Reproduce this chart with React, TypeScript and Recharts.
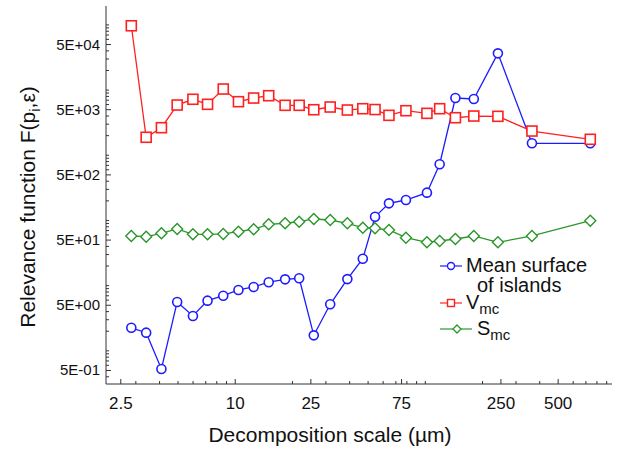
import { LineChart, Line, XAxis, YAxis, Legend, Label } from "recharts"

const FONT = "'Liberation Sans', Arial, Helvetica, sans-serif"
const BLUE = "#1c1cff"
const RED = "#ff2020"
const GREEN = "#2b962b"
const AXIS = "#333"
const INK = "#111"

// decomposition scale (µm)
const scales = [2.84, 3.4, 4.09, 4.95, 5.99, 7.15, 8.65, 10.4, 12.5, 15, 18.3, 21.7, 25.9, 31.6, 38.9, 46.9, 54.4, 64.4, 79.1, 102, 119, 144, 180, 241, 364, 738]
const meanSurface = [2.26, 1.9, 0.527, 5.62, 3.43, 5.89, 7.01, 8.59, 9.55, 11.3, 12.5, 13.0, 1.73, 5.18, 12.6, 25.9, 114, 183, 206, 267, 728, 7550, 7300, 36600, 1528, 1528]
const vmc = [97000, 1888, 2650, 5900, 7230, 6050, 10380, 6640, 7550, 8200, 5840, 5840, 5000, 5500, 4945, 5180, 5030, 4100, 4830, 4400, 5180, 3770, 4000, 3960, 2355, 1758]
const smc = [57.8, 56.4, 63.5, 74, 61.4, 61.4, 62.1, 67.3, 73.3, 87.3, 90.6, 95.7, 105.4, 101.6, 90.6, 77.5, 75.9, 71.4, 54.4, 46.2, 48.4, 52, 57.8, 46.2, 57.8, 99.3]

// axis ticks
const xLabelTicks = [2.5, 10, 25, 75, 250, 500]
const xMinorTicks = [3, 4, 5, 6, 7, 8, 9, 20, 30, 40, 50, 60, 70, 80, 90, 100, 200, 300, 400, 600, 700, 800, 900]
const yLabelTicks = [0.5, 5, 50, 500, 5000, 50000]
const yLabelText = ["5E-01", "5E+00", "5E+01", "5E+02", "5E+03", "5E+04"]

const yMinorTicks: number[] = []
for (let e = -1; e <= 5; e++) {
  for (let k = 1; k <= 9; k++) {
    const v = k * 10 ** e
    if (k !== 5 && v > 0.31 && v < 195000) yMinorTicks.push(v)
  }
}

const data = scales.map((scale, i) => ({
  scale,
  mean: meanSurface[i],
  vmc: vmc[i],
  smc: smc[i],
}))

const XTick = ({ x, y, payload }: any) => {
  const idx = xLabelTicks.indexOf(payload.value)
  const major = idx >= 0
  return (
    <g>
      <line x1={x} x2={x} y1={y} y2={y - (major ? 5 : 3)} stroke={AXIS} />
      {major && (
        <text x={x} y={y + 25} textAnchor="middle" fontSize={17} fontFamily={FONT} fill={INK}>
          {payload.value}
        </text>
      )}
    </g>
  )
}

const YTick = ({ x, y, payload }: any) => {
  const idx = yLabelTicks.indexOf(payload.value)
  const major = idx >= 0
  return (
    <g>
      <line x1={x} x2={x + (major ? 5 : 3)} y1={y} y2={y} stroke={AXIS} />
      {major && (
        <text x={x - 6} y={y + 5} textAnchor="end" fontSize={15} fontFamily={FONT} fill={INK}>
          {yLabelText[idx]}
        </text>
      )}
    </g>
  )
}

const squareDot = (props: any) => {
  const { cx, cy, index } = props
  return <rect key={`sq-${index}`} x={cx - 5} y={cy - 5} width={10} height={10} fill="#fff" stroke={RED} strokeWidth={1.6} />
}

const diamondDot = (props: any) => {
  const { cx, cy, index } = props
  const s = 5.5
  return (
    <polygon
      key={`dm-${index}`}
      points={`${cx},${cy - s} ${cx + s},${cy} ${cx},${cy + s} ${cx - s},${cy}`}
      fill="#fff"
      stroke={GREEN}
      strokeWidth={1.4}
    />
  )
}

const LegendBox = () => (
  <svg width={190} height={95} style={{ overflow: "visible" }}>
    <g fontFamily={FONT} fill={INK}>
      <line x1={10} x2={32} y1={16} y2={16} stroke={BLUE} strokeWidth={1.2} />
      <circle cx={21} cy={16} r={3.5} fill="#fff" stroke={BLUE} strokeWidth={1.4} />
      <text x={36} y={22} fontSize={20}>Mean surface</text>
      <text x={47} y={42} fontSize={20}>of islands</text>

      <line x1={10} x2={32} y1={53} y2={53} stroke={RED} strokeWidth={1.2} />
      <rect x={17.5} y={49.5} width={7} height={7} fill="#fff" stroke={RED} strokeWidth={1.4} />
      <text x={36} y={59} fontSize={20}>
        V<tspan fontSize={15} dy={5}>mc</tspan>
      </text>

      <line x1={10} x2={42} y1={79} y2={79} stroke={GREEN} strokeWidth={1.2} />
      <polygon points="27,75 31,79 27,83 23,79" fill="#fff" stroke={GREEN} strokeWidth={1.3} />
      <text x={47} y={85} fontSize={20}>
        S<tspan fontSize={15} dy={5}>mc</tspan>
      </text>
    </g>
  </svg>
)

export default function App() {
  return (
    <div style={{ position: "absolute", left: 0, top: 0, width: 627, height: 450, background: "#fff" }}>
      <LineChart width={627} height={450} data={data} margin={{ top: 6, right: 15, left: 0, bottom: 0 }}>
        <XAxis
          dataKey="scale"
          type="number"
          scale="log"
          domain={[2.09, 960]}
          allowDataOverflow
          ticks={[...xLabelTicks, ...xMinorTicks].sort((a, b) => a - b)}
          interval={0}
          tick={XTick}
          tickLine={false}
          tickSize={0}
          tickMargin={0}
          height={66}
          axisLine={{ stroke: AXIS }}
        >
          <Label
            content={() => (
              <text x={330} y={442} textAnchor="middle" fontSize={21} fontFamily={FONT} fill={INK}>
                Decomposition scale (µm)
              </text>
            )}
          />
        </XAxis>
        <YAxis
          type="number"
          scale="log"
          domain={[0.31, 195000]}
          allowDataOverflow
          ticks={[...yLabelTicks, ...yMinorTicks].sort((a, b) => a - b)}
          interval={0}
          tick={YTick}
          tickLine={false}
          tickSize={0}
          tickMargin={0}
          width={106}
          axisLine={{ stroke: AXIS }}
        >
          <Label
            content={() => (
              <text
                x={35}
                y={207}
                transform="rotate(-90 35 207)"
                textAnchor="middle"
                fontSize={21}
                fontFamily={FONT}
                fill={INK}
              >
                Relevance function F(p<tspan fontSize={15} dy={5}>i</tspan>
                <tspan dy={-5}>,ε)</tspan>
              </text>
            )}
          />
        </YAxis>
        <Legend
          layout="vertical"
          align="center"
          verticalAlign="middle"
          content={LegendBox}
          wrapperStyle={{ left: 430, top: 250, width: 190, height: 95 }}
        />
        <Line
          dataKey="mean"
          stroke={BLUE}
          strokeWidth={1.3}
          dot={{ r: 4.5, fill: "#fff", stroke: BLUE, strokeWidth: 1.6 }}
          isAnimationActive={false}
        />
        <Line dataKey="smc" stroke={GREEN} strokeWidth={1.3} dot={diamondDot} isAnimationActive={false} />
        <Line dataKey="vmc" stroke={RED} strokeWidth={1.3} dot={squareDot} isAnimationActive={false} />
      </LineChart>
    </div>
  )
}
